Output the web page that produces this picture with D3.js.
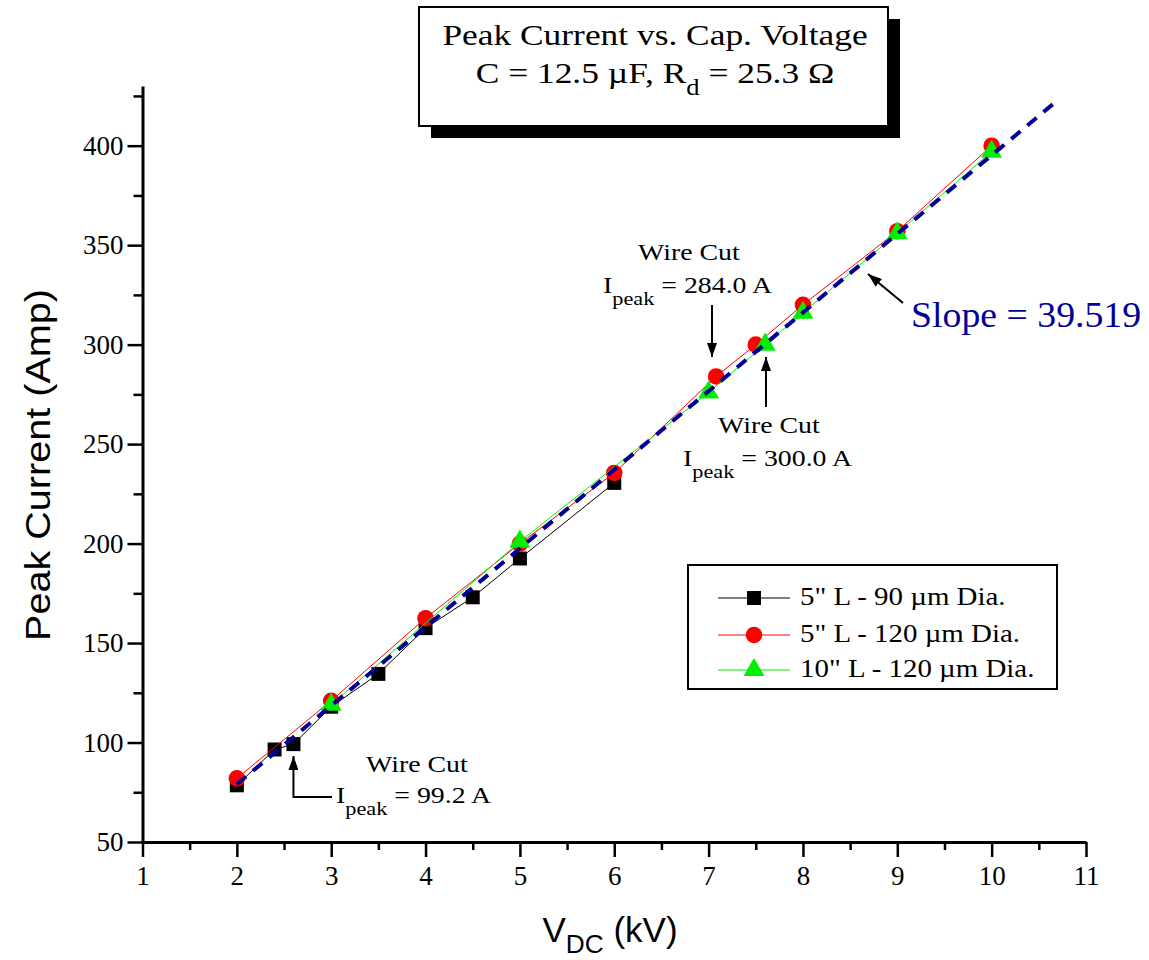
<!DOCTYPE html>
<html><head><meta charset="utf-8">
<script src="https://cdn.jsdelivr.net/npm/d3@7"></script>
<style>body{margin:0;background:#fff}</style>
</head><body>
<svg id="chart" width="1149" height="960"></svg>
<script>
// ---- data ----
const xTicks = [1,2,3,4,5,6,7,8,9,10,11];
const xMinor = [1.5,2.5,3.5,4.5,5.5,6.5,7.5,8.5,9.5,10.5];
const yTicks = [50,100,150,200,250,300,350,400];
const yMinor = [75,125,175,225,275,325,375,425];
const seriesNames = ['5" L - 90 \u00B5m Dia.', '5" L - 120 \u00B5m Dia.', '10" L - 120 \u00B5m Dia.'];
const blackX = [2, 2.4, 2.6, 3, 3.5, 4, 4.5, 5, 6];
const blackY = [78.5, 96.5, 99.2, 118, 134.5, 157.5, 173, 192.5, 230.5];
const redX = [2, 3, 4, 5, 6, 7.08, 7.5, 8, 9, 10];
const redY = [82, 121, 162.5, 200, 235.5, 284, 300, 320, 357, 400];
const greenX = [3, 5, 7, 7.6, 8, 9, 10];
const greenY = [119, 201, 276, 300, 316, 356, 397];
const fitSlope = 39.519, fitIntercept = 0, fitRange = [2, 10.65];

const SERIF = '"Liberation Serif","Times New Roman",serif';
const SANS = '"Liberation Sans",Arial,sans-serif';
const svg = d3.select('#chart');

const x = d3.scaleLinear().domain([1, 11]).range([142.5, 1086]);
const y = d3.scaleLinear().domain([50, 430]).range([842, 86]);

// arrow marker
svg.append('defs').append('marker')
  .attr('id', 'arr').attr('viewBox', '0 0 14 10').attr('refX', 14).attr('refY', 5)
  .attr('markerWidth', 14).attr('markerHeight', 10).attr('markerUnits', 'userSpaceOnUse')
  .attr('orient', 'auto')
  .append('path').attr('d', 'M0,0 L14,5 L0,10 Z').attr('fill', '#000');

// helper for (horizontally stretched) text with optional subscripts
function richText(parent, px, py, parts, size, opts = {}) {
  const sx = opts.sx || 1, rot = opts.rot || 0;
  const t = parent.append('text')
    .attr('transform', `translate(${px},${py}) rotate(${rot}) scale(${sx},1)`)
    .attr('font-family', opts.family || SERIF)
    .attr('font-size', size)
    .attr('fill', opts.fill || '#000')
    .attr('text-anchor', opts.anchor || 'start');
  let shift = 0;
  parts.forEach(p => {
    const s = typeof p === 'string' ? {t: p} : p;
    const ts = t.append('tspan').text(s.t);
    if (s.sub) {
      ts.attr('font-size', size * (opts.subScale || 0.78)).attr('dy', opts.subDy || size * 0.4);
      shift = opts.subDy || size * 0.4;
    } else if (shift) {
      ts.attr('dy', -shift); shift = 0;
    }
  });
  return t;
}

// ---- axes ----
const gx = svg.append('g').attr('transform', `translate(0,${y(50)})`);
gx.call(d3.axisBottom(x).tickValues(xTicks).tickSize(15).tickSizeOuter(0).tickPadding(9).tickFormat(d3.format('d')));
gx.append('g').call(d3.axisBottom(x).tickValues(xMinor).tickSize(8).tickSizeOuter(0).tickFormat(''))
  .select('.domain').remove();
const gy = svg.append('g').attr('transform', `translate(${x(1)},0)`);
gy.call(d3.axisLeft(y).tickValues(yTicks).tickSize(15).tickSizeOuter(0).tickPadding(4).tickFormat(d3.format('d')));
gy.append('g').call(d3.axisLeft(y).tickValues(yMinor).tickSize(9).tickSizeOuter(0).tickFormat(''))
  .select('.domain').remove();
svg.selectAll('.domain').attr('stroke', '#000').attr('stroke-width', 3);
svg.selectAll('.tick line').attr('stroke', '#000').attr('stroke-width', 2.5);
svg.selectAll('.tick text').attr('font-family', SERIF).attr('font-size', 27).attr('fill', '#000');

// axis titles
richText(svg, 610, 942, ['V', {t: 'DC', sub: true}, ' (kV)'], 35, {family: SANS, anchor: 'middle', subScale: 0.75, subDy: 11});
richText(svg, 50, 465, ['Peak Current (Amp)'], 36, {family: SANS, anchor: 'middle', rot: -90, sx: 1.1});

// ---- series ----
const line = d3.line().x(d => x(d[0])).y(d => y(d[1]));
const blackPts = blackX.map((v, i) => [v, blackY[i]]);
const redPts = redX.map((v, i) => [v, redY[i]]);
const greenPts = greenX.map((v, i) => [v, greenY[i]]);

const series = [
  {pts: blackPts, stroke: '#000', fill: '#000', sym: d3.symbolSquare, size: 196},
  {pts: redPts, stroke: '#ff0000', fill: '#ff0000', sym: d3.symbolCircle, size: 216},
  {pts: greenPts, stroke: '#00ee00', fill: '#00ee00', sym: d3.symbolTriangle, size: 190}
];
series.forEach(s => {
  svg.append('path').attr('d', line(s.pts)).attr('fill', 'none').attr('stroke', s.stroke).attr('stroke-width', 1);
  svg.append('g').selectAll('path').data(s.pts).join('path')
    .attr('transform', d => `translate(${x(d[0])},${y(d[1])})`)
    .attr('d', d3.symbol().type(s.sym).size(s.size)).attr('fill', s.fill);
});

// linear fit (dashed)
const fitPts = fitRange.map(v => [v, fitSlope * v + fitIntercept]);
svg.append('path').attr('d', line(fitPts)).attr('fill', 'none')
  .attr('stroke', '#000099').attr('stroke-width', 4).attr('stroke-dasharray', '12,9');

// ---- title box ----
svg.append('rect').attr('x', 431).attr('y', 19).attr('width', 469).attr('height', 119).attr('fill', '#000');
svg.append('rect').attr('x', 419).attr('y', 7).attr('width', 469).attr('height', 119)
  .attr('fill', '#fff').attr('stroke', '#000').attr('stroke-width', 2);
richText(svg, 655, 45, ['Peak Current vs. Cap. Voltage'], 30, {anchor: 'middle', sx: 1.18});
richText(svg, 655, 83, ['C = 12.5 \u00B5F, R', {t: 'd', sub: true}, ' = 25.3 \u03A9'], 30, {anchor: 'middle', sx: 1.18, subScale: 0.75, subDy: 12});

// ---- legend ----
const lg = svg.append('g');
lg.append('rect').attr('x', 688).attr('y', 565).attr('width', 369).attr('height', 124)
  .attr('fill', '#fff').attr('stroke', '#000').attr('stroke-width', 2);
const rowsY = [598, 635, 670];
series.forEach((s, i) => {
  lg.append('line').attr('x1', 718).attr('x2', 790).attr('y1', rowsY[i]).attr('y2', rowsY[i])
    .attr('stroke', s.stroke).attr('stroke-width', 1);
  lg.append('path').attr('transform', `translate(754,${rowsY[i]})`)
    .attr('d', d3.symbol().type(s.sym).size(s.size)).attr('fill', s.fill);
  richText(lg, 800, rowsY[i] + 7, [seriesNames[i]], 24.5, {sx: 1.18});
});

// ---- annotations ----
const ann = svg.append('g');
richText(ann, 366, 772, ['Wire Cut'], 24, {sx: 1.16});
richText(ann, 336, 803, ['I', {t: 'peak', sub: true}, ' = 99.2 A'], 24, {sx: 1.16, subScale: 0.8, subDy: 12});
ann.append('path').attr('d', `M332,797 H${x(2.6)} V756`).attr('fill', 'none')
  .attr('stroke', '#000').attr('stroke-width', 2).attr('marker-end', 'url(#arr)');

richText(ann, 638, 260, ['Wire Cut'], 24, {sx: 1.16});
richText(ann, 603, 293, ['I', {t: 'peak', sub: true}, ' = 284.0 A'], 24, {sx: 1.16, subScale: 0.8, subDy: 12});
ann.append('path').attr('d', 'M712,305 V357').attr('stroke', '#000').attr('stroke-width', 2).attr('marker-end', 'url(#arr)');

richText(ann, 718, 433, ['Wire Cut'], 24, {sx: 1.16});
richText(ann, 683, 466, ['I', {t: 'peak', sub: true}, ' = 300.0 A'], 24, {sx: 1.16, subScale: 0.8, subDy: 12});
ann.append('path').attr('d', 'M766,407 V357').attr('stroke', '#000').attr('stroke-width', 2).attr('marker-end', 'url(#arr)');

richText(ann, 911, 327, ['Slope = 39.519'], 35, {sx: 1.08, fill: '#000099'});
ann.append('path').attr('d', 'M903,303 L868,274').attr('stroke', '#000').attr('stroke-width', 2).attr('marker-end', 'url(#arr)');
</script>
</body></html>
